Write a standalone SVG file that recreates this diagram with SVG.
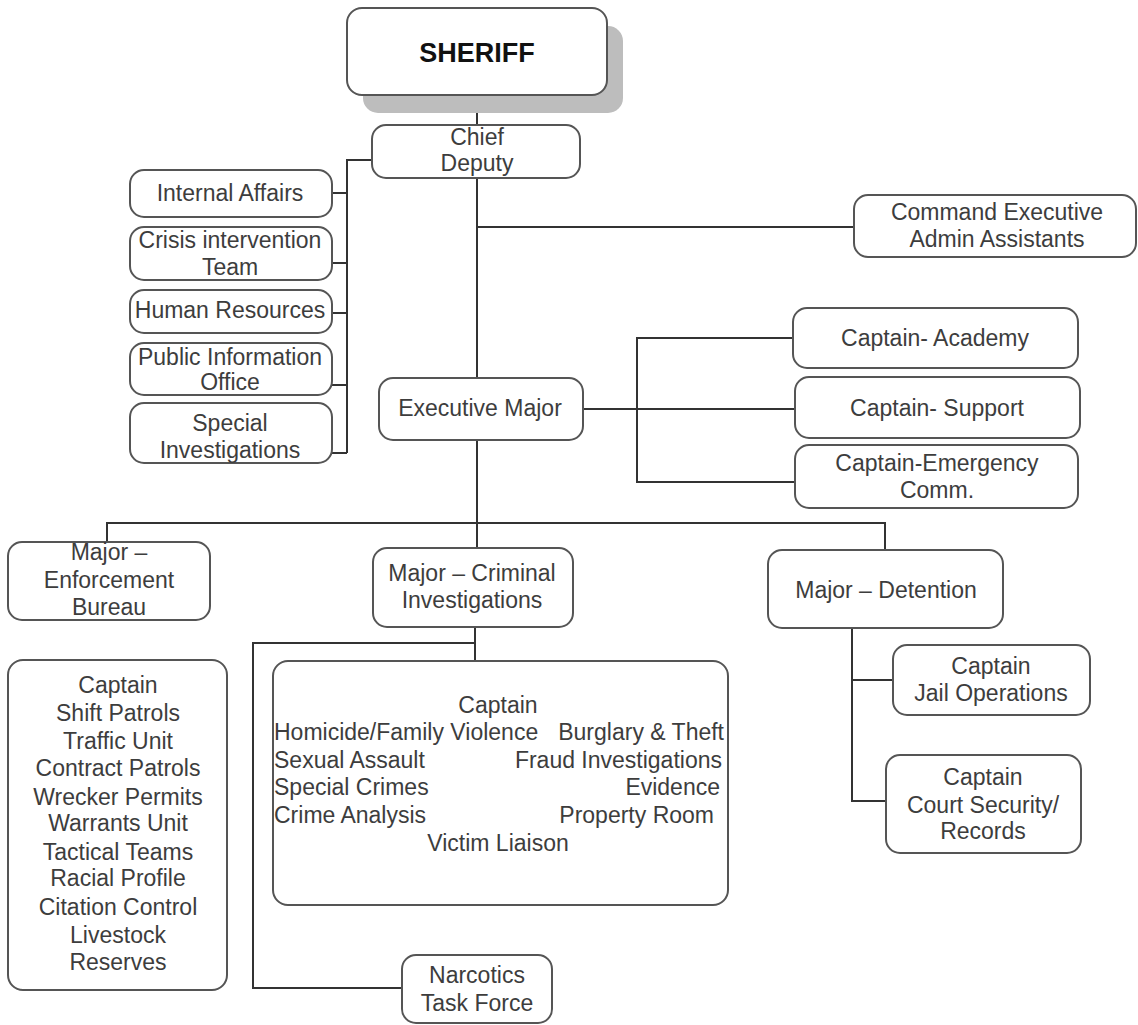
<svg xmlns="http://www.w3.org/2000/svg" width="1138" height="1025" viewBox="0 0 1138 1025">
  <style>
    .box { fill: #ffffff; stroke: #555555; stroke-width: 2; }
    .shadow { fill: #bdbdbd; stroke: none; }
    .wire { fill: none; stroke: #333333; stroke-width: 2; }
    text { font-family: "Liberation Sans", Arial, sans-serif; font-size: 23px; fill: #3d3d3d; }
    .c { text-anchor: middle; }
    .e { text-anchor: end; }
    .title { font-size: 27px; font-weight: bold; fill: #111111; }
  </style>
  <rect width="1138" height="1025" fill="#ffffff"/>

  <!-- connectors -->
  <g id="connectors">
    <path class="wire" d="M477 95 V125"/>
    <path class="wire" d="M477 178 V378"/>
    <path class="wire" d="M372 160 H347 V453"/>
    <path class="wire" d="M332 193 H347 M332 263 H347 M332 313 H347 M332 385 H347 M332 453 H347"/>
    <path class="wire" d="M477 227 H854"/>
    <path class="wire" d="M583 409 H795"/>
    <path class="wire" d="M793 338 H637 V482 H795"/>
    <path class="wire" d="M477 440 V548"/>
    <path class="wire" d="M107 542 V523 H885 V550"/>
    <path class="wire" d="M475 627 V661"/>
    <path class="wire" d="M475 643 H253 V988 H402"/>
    <path class="wire" d="M852 628 V801 H886 M852 680 H893"/>
  </g>

  <!-- head of office -->
  <g id="sheriff">
    <rect class="shadow" x="363" y="26" width="260" height="87" rx="15"/>
    <rect class="box" x="347" y="8" width="260" height="87" rx="15"/>
    <text class="c title" x="477" y="62">SHERIFF</text>
  </g>

  <g id="chief-deputy">
    <rect class="box" x="372" y="125" width="208" height="53" rx="14"/>
    <text class="c" x="477" y="145">Chief</text>
    <text class="c" x="477" y="171">Deputy</text>
  </g>

  <!-- staff units under the chief deputy -->
  <g id="internal-affairs">
    <rect class="box" x="130" y="170" width="202" height="47" rx="14"/>
    <text class="c" x="230" y="201">Internal Affairs</text>
  </g>
  <g id="crisis-intervention">
    <rect class="box" x="130" y="227" width="202" height="53" rx="14"/>
    <text class="c" x="230" y="248">Crisis intervention</text>
    <text class="c" x="230" y="275">Team</text>
  </g>
  <g id="human-resources">
    <rect class="box" x="130" y="290" width="202" height="43" rx="14"/>
    <text class="c" x="230" y="318">Human Resources</text>
  </g>
  <g id="public-information">
    <rect class="box" x="130" y="343" width="202" height="52" rx="14"/>
    <text class="c" x="230" y="365">Public Information</text>
    <text class="c" x="230" y="390">Office</text>
  </g>
  <g id="special-investigations">
    <rect class="box" x="130" y="403" width="202" height="60" rx="14"/>
    <text class="c" x="230" y="431">Special</text>
    <text class="c" x="230" y="458">Investigations</text>
  </g>

  <g id="admin-assistants">
    <rect class="box" x="854" y="195" width="282" height="62" rx="14"/>
    <text class="c" x="997" y="220">Command Executive</text>
    <text class="c" x="997" y="247">Admin Assistants</text>
  </g>

  <g id="executive-major">
    <rect class="box" x="379" y="378" width="204" height="62" rx="14"/>
    <text class="c" x="480" y="416">Executive Major</text>
  </g>

  <!-- captains under the executive major -->
  <g id="captain-academy">
    <rect class="box" x="793" y="308" width="285" height="60" rx="14"/>
    <text class="c" x="935" y="346">Captain- Academy</text>
  </g>
  <g id="captain-support">
    <rect class="box" x="795" y="377" width="285" height="61" rx="14"/>
    <text class="c" x="937" y="416">Captain- Support</text>
  </g>
  <g id="captain-emergency">
    <rect class="box" x="795" y="445" width="283" height="63" rx="14"/>
    <text class="c" x="937" y="471">Captain-Emergency</text>
    <text class="c" x="937" y="498">Comm.</text>
  </g>

  <!-- bureau majors -->
  <g id="major-enforcement">
    <rect class="box" x="8" y="542" width="202" height="78" rx="14"/>
    <text class="c" x="109" y="560">Major –</text>
    <text class="c" x="109" y="588">Enforcement</text>
    <text class="c" x="109" y="615">Bureau</text>
  </g>
  <g id="major-criminal">
    <rect class="box" x="373" y="548" width="200" height="79" rx="14"/>
    <text class="c" x="472" y="581">Major – Criminal</text>
    <text class="c" x="472" y="608">Investigations</text>
  </g>
  <g id="major-detention">
    <rect class="box" x="768" y="550" width="235" height="78" rx="14"/>
    <text class="c" x="886" y="598">Major – Detention</text>
  </g>

  <!-- enforcement bureau units -->
  <g id="enforcement-units">
    <rect class="box" x="8" y="660" width="219" height="330" rx="15"/>
    <text class="c" x="118" y="693">Captain</text>
    <text class="c" x="118" y="721">Shift Patrols</text>
    <text class="c" x="118" y="749">Traffic Unit</text>
    <text class="c" x="118" y="776">Contract Patrols</text>
    <text class="c" x="118" y="805">Wrecker Permits</text>
    <text class="c" x="118" y="831">Warrants Unit</text>
    <text class="c" x="118" y="860">Tactical Teams</text>
    <text class="c" x="118" y="886">Racial Profile</text>
    <text class="c" x="118" y="915">Citation Control</text>
    <text class="c" x="118" y="943">Livestock</text>
    <text class="c" x="118" y="970">Reserves</text>
  </g>

  <!-- criminal investigations units -->
  <g id="investigation-units">
    <rect class="box" x="273" y="661" width="455" height="244" rx="15"/>
    <text class="c" x="498" y="713">Captain</text>
    <text x="274" y="740">Homicide/Family Violence</text>
    <text class="e" x="724" y="740">Burglary &amp; Theft</text>
    <text x="274" y="768">Sexual Assault</text>
    <text class="e" x="722" y="768">Fraud Investigations</text>
    <text x="274" y="795">Special Crimes</text>
    <text class="e" x="720" y="795">Evidence</text>
    <text x="274" y="823">Crime Analysis</text>
    <text class="e" x="714" y="823">Property Room</text>
    <text class="c" x="498" y="851">Victim Liaison</text>
  </g>

  <g id="narcotics">
    <rect class="box" x="402" y="955" width="150" height="68" rx="14"/>
    <text class="c" x="477" y="983">Narcotics</text>
    <text class="c" x="477" y="1011">Task Force</text>
  </g>

  <!-- detention units -->
  <g id="jail-operations">
    <rect class="box" x="893" y="645" width="197" height="70" rx="14"/>
    <text class="c" x="991" y="674">Captain</text>
    <text class="c" x="991" y="701">Jail Operations</text>
  </g>
  <g id="court-security">
    <rect class="box" x="886" y="755" width="195" height="98" rx="14"/>
    <text class="c" x="983" y="785">Captain</text>
    <text class="c" x="983" y="813">Court Security/</text>
    <text class="c" x="983" y="839">Records</text>
  </g>
</svg>
